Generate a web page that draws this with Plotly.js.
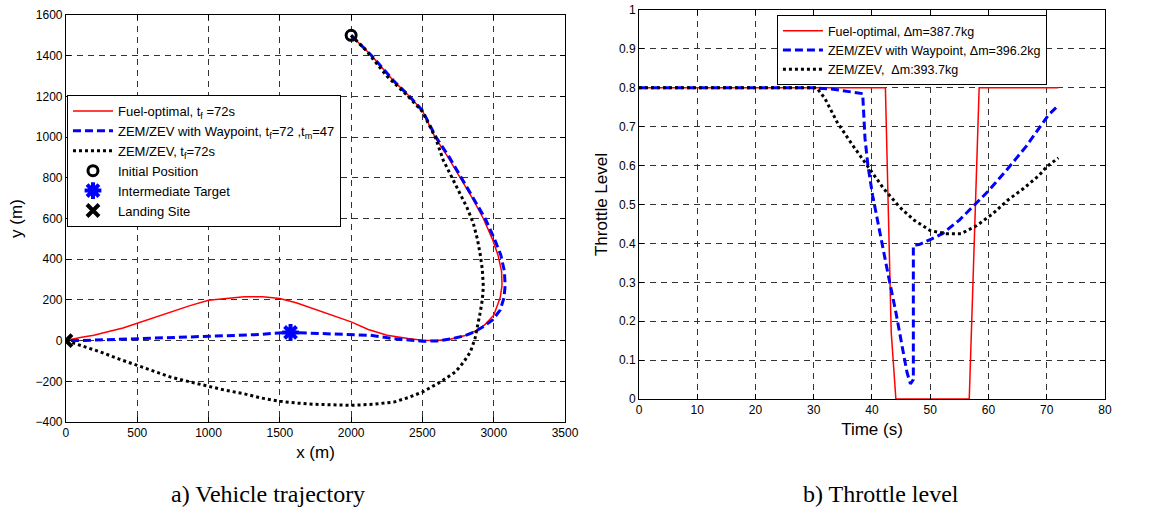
<!DOCTYPE html>
<html>
<head>
<meta charset="utf-8">
<script src="https://cdn.plot.ly/plotly-3.0.1.min.js"></script>
<style>html,body{margin:0;padding:0;background:#fff;}#chart{width:1151px;height:510px;}</style>
</head>
<body>
<div id="chart"></div>
<script>
// ---- Panel a) vehicle trajectory (m) ----
var fuelX = [2000, 2060, 2144, 2300, 2410, 2500, 2588, 2680, 2764, 2850, 2927, 2990, 3030, 3055, 3058, 3045, 3000, 2940, 2883, 2800, 2700, 2600, 2500, 2400, 2252, 2120, 2000, 1870, 1738, 1620, 1500, 1380, 1250, 1120, 1000, 870, 734, 620, 500, 400, 300, 196, 100, 0];
var fuelY = [1500, 1460, 1400, 1275, 1200, 1130, 1000, 900, 800, 700, 600, 500, 420, 340, 270, 210, 125, 80, 51, 25, 8, 0, 2, 10, 26, 55, 92, 125, 157, 185, 207, 215, 215, 208, 198, 172, 141, 112, 84, 62, 45, 26, 15, 0];
var wayX = [2000, 2060, 2144, 2300, 2410, 2500, 2595, 2690, 2775, 2860, 2940, 3005, 3050, 3075, 3080, 3072, 3045, 2990, 2930, 2870, 2800, 2700, 2600, 2500, 2400, 2294, 2136, 2000, 1870, 1738, 1575, 1450, 1364, 1200, 1000, 870, 734, 600, 500, 350, 196, 100, 0];
var wayY = [1500, 1460, 1400, 1275, 1200, 1130, 1000, 900, 800, 700, 600, 500, 420, 340, 270, 210, 150, 100, 70, 45, 25, 8, -2, -3, 2, 10, 26, 30, 34, 38, 40, 36, 30, 26, 21, 18, 15, 10, 7, 3, 0, 0, 0];
var zemX = [2000, 2100, 2250, 2400, 2500, 2590, 2646, 2710, 2764, 2815, 2857, 2885, 2904, 2920, 2927, 2920, 2904, 2885, 2869, 2836, 2790, 2731, 2626, 2502, 2400, 2299, 2150, 2000, 1870, 1738, 1620, 1500, 1370, 1248, 1120, 998, 870, 734, 620, 500, 370, 243, 120, 0];
var zemY = [1500, 1430, 1300, 1200, 1125, 1000, 887, 800, 724, 650, 576, 500, 429, 350, 265, 200, 134, 70, 11, -56, -105, -154, -203, -252, -280, -302, -313, -318, -317, -313, -307, -298, -282, -261, -244, -225, -203, -179, -152, -121, -90, -56, -28, 0];
var initialPos = [2000, 1500];
var intermediateTarget = [1575, 40];
var landingSite = [0, 0];

// ---- Panel b) throttle level ----
var fuelT = [0, 42.3, 43.3, 44.1, 56.7, 58.4, 72];
var fuelThr = [0.8, 0.8, 0.172, 0, 0, 0.8, 0.8];
var wayT = [0, 30, 33, 36.7, 38.4, 38.8, 39.3, 40.1, 41.5, 42.8, 44.1, 45.2, 46.0, 46.6, 47.1, 47.1, 48.1, 50, 52.1, 55, 57.5, 60, 63.3, 66.5, 70.3, 72];
var wayThr = [0.8, 0.8, 0.797, 0.79, 0.785, 0.67, 0.6, 0.524, 0.412, 0.318, 0.223, 0.137, 0.069, 0.039, 0.05, 0.395, 0.397, 0.41, 0.425, 0.46, 0.498, 0.535, 0.592, 0.65, 0.73, 0.755];
var zemT = [0, 30.5, 31.9, 34, 36.7, 39.3, 42, 44.7, 47.3, 50, 52.7, 55.3, 58, 60.7, 63.3, 66, 68.7, 70, 72];
var zemThr = [0.8, 0.8, 0.773, 0.712, 0.652, 0.597, 0.541, 0.494, 0.459, 0.433, 0.425, 0.425, 0.446, 0.476, 0.511, 0.541, 0.575, 0.597, 0.62];

var names1 = ['Fuel-optimal, t<sub>f</sub> =72s', 'ZEM/ZEV with Waypoint, t<sub>f</sub>=72 ,t<sub>m</sub>=47', 'ZEM/ZEV, t<sub>f</sub>=72s', 'Initial Position', 'Intermediate Target', 'Landing Site'];
var names2 = ['Fuel-optimal, \u0394m=387.7kg', 'ZEM/ZEV with Waypoint, \u0394m=396.2kg', 'ZEM/ZEV,  \u0394m:393.7kg'];

var RED = '#ff0000', BLUE = '#0000ff', BLACK = '#000000';
var traces = [
  {x: fuelX, y: fuelY, mode: 'lines', name: names1[0], line: {color: RED, width: 1.5}, xaxis: 'x', yaxis: 'y', legend: 'legend'},
  {x: wayX, y: wayY, mode: 'lines', name: names1[1], line: {color: BLUE, width: 3, dash: '8px,4px'}, xaxis: 'x', yaxis: 'y', legend: 'legend'},
  {x: zemX, y: zemY, mode: 'lines', name: names1[2], line: {color: BLACK, width: 3, dash: '3px,3px'}, xaxis: 'x', yaxis: 'y', legend: 'legend'},
  {x: [initialPos[0]], y: [initialPos[1]], mode: 'markers', name: names1[3], marker: {symbol: 'circle-open', size: 10, color: BLACK, line: {width: 3, color: BLACK}}, xaxis: 'x', yaxis: 'y', legend: 'legend'},
  {x: [intermediateTarget[0]], y: [intermediateTarget[1]], mode: 'markers', name: names1[4], marker: {symbol: 'asterisk-open', size: 14, color: BLUE, line: {width: 4, color: BLUE}}, xaxis: 'x', yaxis: 'y', legend: 'legend'},
  {x: [landingSite[0]], y: [landingSite[1]], mode: 'markers', name: names1[5], marker: {symbol: 'x-thin-open', size: 12, color: BLACK, line: {width: 4, color: BLACK}}, xaxis: 'x', yaxis: 'y', legend: 'legend'},
  {x: fuelT, y: fuelThr, mode: 'lines', name: names2[0], line: {color: RED, width: 1.5}, xaxis: 'x2', yaxis: 'y2', legend: 'legend2'},
  {x: wayT, y: wayThr, mode: 'lines', name: names2[1], line: {color: BLUE, width: 3, dash: '8px,4px'}, xaxis: 'x2', yaxis: 'y2', legend: 'legend2'},
  {x: zemT, y: zemThr, mode: 'lines', name: names2[2], line: {color: BLACK, width: 3, dash: '3px,3px'}, xaxis: 'x2', yaxis: 'y2', legend: 'legend2'}
];

var FONT = 'Liberation Sans, Arial, sans-serif';
function ax(extra) {
  var base = {
    showline: true, linecolor: '#000', linewidth: 1, mirror: 'ticks',
    ticks: 'inside', ticklen: 5, tickcolor: '#000', tickwidth: 1,
    showgrid: true, gridcolor: '#333', gridwidth: 1, griddash: '6px,5px',
    zeroline: false, tickfont: {family: FONT, size: 12, color: '#000'},
    fixedrange: true
  };
  for (var k in extra) base[k] = extra[k];
  return base;
}

var layout = {
  width: 1151, height: 510,
  margin: {l: 0, r: 0, t: 0, b: 0},
  paper_bgcolor: '#fff', plot_bgcolor: '#fff',
  showlegend: true,
  font: {family: FONT, color: '#000'},
  xaxis: ax({domain: [0.0573, 0.4909], range: [0, 3500], dtick: 500, tick0: 0, anchor: 'y',
    title: {text: 'x (m)', font: {size: 17, family: FONT}, standoff: 6}}),
  yaxis: ax({domain: [0.1725, 0.9706], range: [-400, 1600], dtick: 200, tick0: 0, anchor: 'x',
    title: {text: 'y (m)', font: {size: 17, family: FONT}, standoff: 8}}),
  xaxis2: ax({domain: [0.5552, 0.9600], range: [0, 80], dtick: 10, tick0: 0, anchor: 'y2',
    title: {text: 'Time (s)', font: {size: 17, family: FONT}, standoff: 6}}),
  yaxis2: ax({domain: [0.2176, 0.9804], range: [0, 1], dtick: 0.1, tick0: 0, anchor: 'x2',
    title: {text: 'Throttle Level', font: {size: 17, family: FONT}, standoff: 6}}),
  legend: {x: 0.0582, y: 0.8137, xanchor: 'left', yanchor: 'top', bgcolor: '#fff', bordercolor: '#000', borderwidth: 1,
    itemwidth: 40, font: {family: FONT, size: 13, color: '#000'}},
  legend2: {x: 0.675, y: 1 - 15 / 510, xanchor: 'left', yanchor: 'top', bgcolor: '#fff', bordercolor: '#000', borderwidth: 1,
    itemwidth: 40, tracegroupgap: 0, font: {family: FONT, size: 12.5, color: '#000'}},
  annotations: [
    {text: 'a) Vehicle trajectory', xref: 'paper', yref: 'paper', x: 0.233, y: 1 - 494 / 510, xanchor: 'center', yanchor: 'middle', showarrow: false,
      font: {family: 'Liberation Serif, Times New Roman, serif', size: 24, color: '#000'}},
    {text: 'b) Throttle level', xref: 'paper', yref: 'paper', x: 0.765, y: 1 - 494 / 510, xanchor: 'center', yanchor: 'middle', showarrow: false,
      font: {family: 'Liberation Serif, Times New Roman, serif', size: 24, color: '#000'}}
  ]
};

Plotly.newPlot('chart', traces, layout, {displayModeBar: false, staticPlot: true});
</script>
</body>
</html>
